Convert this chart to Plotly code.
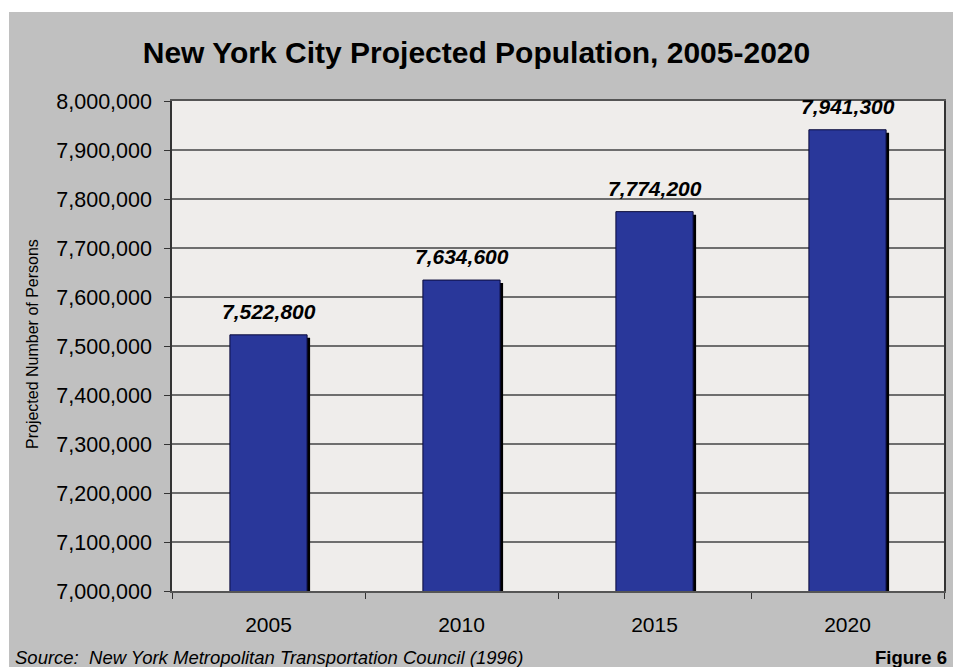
import plotly.graph_objects as go

# Projected population of New York City
years = ["2005", "2010", "2015", "2020"]
population = [7522800, 7634600, 7774200, 7941300]

y_ticks = [7000000 + 100000 * i for i in range(11)]
y_tick_labels = [f"{v:,}" for v in y_ticks]

FONT = "Liberation Sans, Arial, Helvetica, sans-serif"
BAR_COLOR = "#29379A"
PANEL_GREY = "#C0C0C0"
PLOT_BG = "#EFEDEB"

W, H = 953, 667
M_L, M_R, M_T, M_B = 172, 7, 101, 76
Y_MIN, Y_MAX = 7000000, 8000000

plot_w = W - M_L - M_R
plot_h = H - M_T - M_B
cat_px = plot_w / len(years)
units_per_px = (Y_MAX - Y_MIN) / plot_h
bar_w = 0.40
shadow_px = 3

fig = go.Figure()

# drop shadow behind each bar, offset a few pixels right and down
fig.add_trace(go.Bar(
    x=years,
    y=[v - shadow_px * units_per_px for v in population],
    width=bar_w,
    offset=-bar_w / 2 + shadow_px / cat_px,
    marker=dict(color="#000000", line=dict(width=0)),
    hoverinfo="skip",
    showlegend=False,
))

fig.add_trace(go.Bar(
    x=years,
    y=population,
    width=bar_w,
    offset=-bar_w / 2,
    marker=dict(color=BAR_COLOR, line=dict(color="#0B0B3B", width=1)),
    showlegend=False,
))

# value labels above bars (category index positions)
for i, v in enumerate(population):
    fig.add_annotation(
        x=i, y=v, xref="x", yref="y",
        text=f"<b><i>{v:,}</i></b>",
        showarrow=False,
        xanchor="center", yanchor="bottom",
        yshift=10,
        font=dict(family=FONT, size=21, color="#000000"),
    )

# y axis title
fig.add_annotation(
    x=0, y=0.5, xref="paper", yref="paper",
    xanchor="center", yanchor="middle",
    xshift=32 - M_L, yshift=2,
    text="Projected Number of Persons",
    textangle=-90,
    showarrow=False,
    font=dict(family=FONT, size=16, color="#000000"),
)

# source note and figure number
fig.add_annotation(
    x=0, y=0, xref="paper", yref="paper",
    xanchor="left", yanchor="middle",
    xshift=13 - M_L, yshift=-66,
    text="<i>Source:  New York Metropolitan Transportation Council (1996)</i>",
    showarrow=False,
    font=dict(family=FONT, size=18.5, color="#000000"),
)
fig.add_annotation(
    x=1, y=0, xref="paper", yref="paper",
    xanchor="right", yanchor="middle",
    xshift=5, yshift=-66,
    text="<b>Figure 6</b>",
    showarrow=False,
    font=dict(family=FONT, size=18.5, color="#000000"),
)

# white strips framing the grey panel on top and left
fig.add_shape(
    type="rect", xref="paper", yref="paper",
    ysizemode="pixel", yanchor=1,
    x0=-1, x1=2, y0=M_T - 12, y1=M_T + 20,
    fillcolor="#FFFFFF", line=dict(width=0), layer="below",
)
fig.add_shape(
    type="rect", xref="paper", yref="paper",
    xsizemode="pixel", xanchor=0,
    x0=-M_L - 20, x1=9 - M_L, y0=-1, y1=2,
    fillcolor="#FFFFFF", line=dict(width=0), layer="below",
)

fig.update_layout(
    width=W, height=H,
    margin=dict(l=M_L, r=M_R, t=M_T, b=M_B, pad=0),
    paper_bgcolor=PANEL_GREY,
    plot_bgcolor=PLOT_BG,
    barmode="overlay",
    title=dict(
        text="<b>New York City Projected Population, 2005-2020</b>",
        x=0.5, xref="container", xanchor="center",
        y=1 - 52.5 / H, yref="container", yanchor="middle",
        font=dict(family=FONT, size=30, color="#000000"),
    ),
    font=dict(family=FONT, color="#000000"),
    xaxis=dict(
        type="category",
        categoryorder="array", categoryarray=years,
        range=[-0.5, len(years) - 0.5],
        showgrid=False,
        showline=True, linecolor="#555555", linewidth=1.5,
        mirror=True,
        ticks="outside", tickson="boundaries", ticklen=6,
        tickcolor="#333333", tickwidth=1,
        tickangle=0,
        ticklabelstandoff=14,
        tickfont=dict(family=FONT, size=21, color="#000000"),
    ),
    yaxis=dict(
        range=[Y_MIN, Y_MAX],
        tickvals=y_ticks, ticktext=y_tick_labels,
        showgrid=True, gridcolor="#6E6E6E", gridwidth=1.5,
        showline=True, linecolor="#333333", linewidth=1.5,
        mirror=True,
        ticks="outside", ticklen=6, tickcolor="#333333", tickwidth=1,
        ticklabelstandoff=8,
        tickfont=dict(family=FONT, size=21.5, color="#000000"),
        zeroline=False,
    ),
)

fig.write_html("out.html")
